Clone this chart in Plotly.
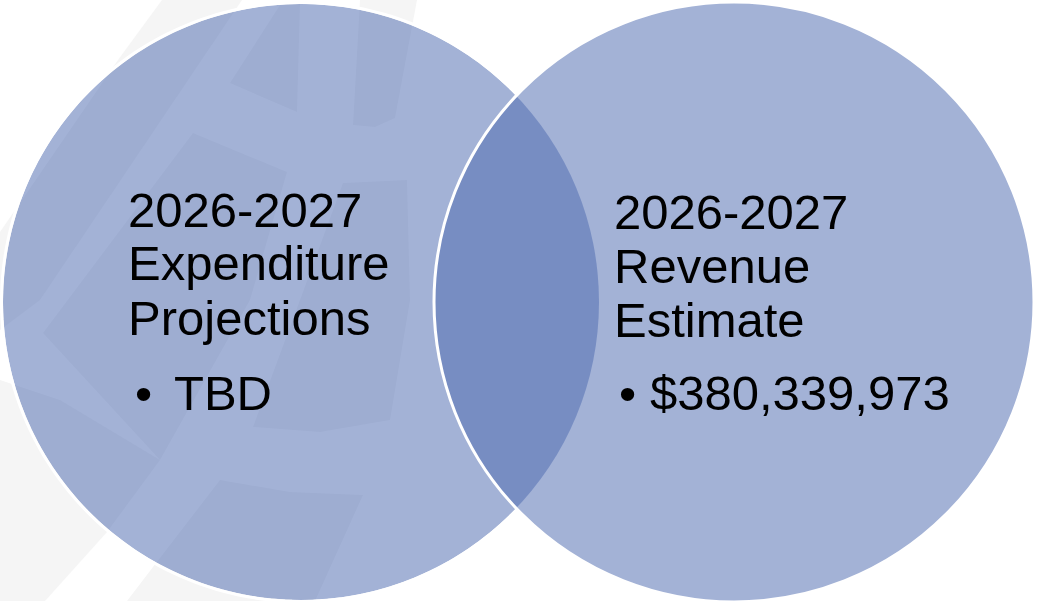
import numpy as np
import plotly.graph_objects as go

# ---- data (text content of the Venn diagram) ----
set_names = ["Expenditure", "Revenue"]
header_left = ["2026-2027", "Expenditure", "Projections"]
header_right = ["2026-2027", "Revenue", "Estimate"]
bullet_values = ["TBD", "$380,339,973"]

# ---- layout / geometry (pixels, y downwards) ----
W, H = 1038, 601
circles = [  # (cx, cy, r)
    (301, 302, 298),
    (734, 302, 300),
]
fill_rgba = "rgba(78,107,176,0.52)"
tile_color = "#f5f5f5"

# faint background watermark tiles
tiles = [
    [(118, 60), (162, 0), (242, 0), (40, 300), (0, 330), (0, 232)],
    [(0, 380), (60, 400), (160, 460), (107, 532), (45, 601), (0, 601)],
    [(220, 480), (290, 492), (363, 495), (315, 601), (127, 601), (153, 567)],
    [(343, 183), (407, 180), (410, 300), (390, 420), (320, 432), (253, 427), (300, 300)],
    [(193, 133), (287, 172), (250, 300), (160, 460), (43, 333)],
    [(230, 83), (297, 112), (300, 3), (280, 5)],
    [(353, 125), (375, 127), (395, 118), (417, 0), (360, 0)],
]


def poly_path(pts):
    s = "M {} {}".format(*pts[0])
    for p in pts[1:]:
        s += " L {} {}".format(*p)
    return s + " Z"


shapes = []
for t in tiles:
    shapes.append(dict(type="path", path=poly_path(t), fillcolor=tile_color,
                       line=dict(width=0), layer="above"))

# left circle fill
cx, cy, r = circles[0]
shapes.append(dict(type="circle", x0=cx - r, x1=cx + r, y0=cy - r, y1=cy + r,
                   fillcolor=fill_rgba, line=dict(width=0)))

# white outline of left circle, only where it is outside the right circle
cx2, cy2, r2 = circles[1]
d = cx2 - cx
xi = (d * d + r * r - r2 * r2) / (2 * d)
th = np.degrees(np.arccos(xi / r))
ang = np.radians(np.linspace(th, 360 - th, 200))
ro = r + 1.5
pts = [(cx + ro * np.cos(a), cy + ro * np.sin(a)) for a in ang]
arc = "M {:.2f} {:.2f}".format(*pts[0]) + "".join(" L {:.2f} {:.2f}".format(*p) for p in pts[1:])
shapes.append(dict(type="path", path=arc, line=dict(color="white", width=3)))

# right circle with white outline
shapes.append(dict(type="circle", x0=cx2 - r2, x1=cx2 + r2, y0=cy2 - r2, y1=cy2 + r2,
                   fillcolor=fill_rgba, line=dict(color="white", width=3)))

FONT = "Liberation Sans, Arial, sans-serif"
FS = 49
annotations = []


def add_text(x, y_mid, txt, anchor="left"):
    annotations.append(dict(x=x, y=y_mid, xref="x", yref="y", text=txt, showarrow=False,
                            xanchor=anchor, yanchor="middle", borderpad=0,
                            font=dict(family=FONT, size=FS, color="black")))


left_base = [227, 280, 335]
right_base = [229, 283, 337]
for txt, b in zip(header_left, left_base):
    add_text(127, b - 17.5, txt)
for txt, b in zip(header_right, right_base):
    add_text(613, b - 17.5, txt)

# bullets and values
add_text(143, 410 - 17.5, "•", anchor="center")
add_text(173, 410 - 17.5, bullet_values[0])
add_text(627, 410 - 17.5, "•", anchor="center")
add_text(649, 410 - 17.5, bullet_values[1])

fig = go.Figure()
fig.add_trace(go.Scatter(x=[0, W], y=[0, H], mode="markers",
                         marker=dict(opacity=0), hoverinfo="skip", showlegend=False))
fig.update_layout(
    width=W, height=H,
    margin=dict(l=0, r=0, t=0, b=0),
    paper_bgcolor="white", plot_bgcolor="white",
    shapes=shapes, annotations=annotations,
    xaxis=dict(range=[0, W], visible=False, fixedrange=True),
    yaxis=dict(range=[H, 0], visible=False, fixedrange=True),
    showlegend=False,
)
fig.write_html("out.html", config={"displayModeBar": False},
               post_script="document.body.style.margin='0';document.body.style.overflow='hidden';")
